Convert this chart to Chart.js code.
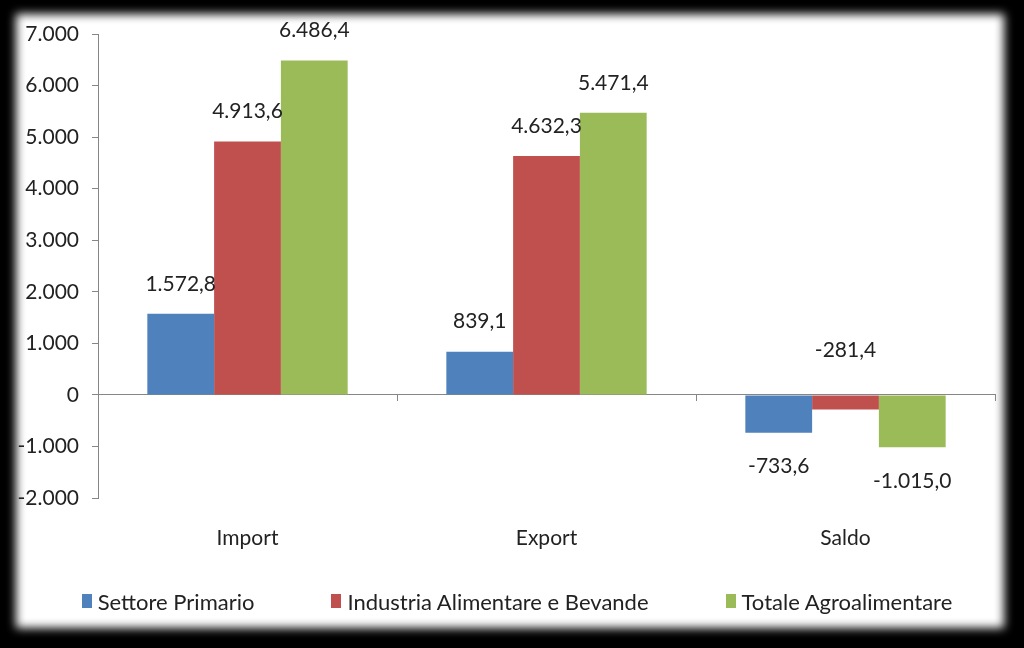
<!DOCTYPE html>
<html>
<head>
<meta charset="utf-8">
<script src="https://cdn.jsdelivr.net/npm/chart.js@4"></script>
<style>
  html, body { margin: 0; padding: 0; background: #000; }
  #panel {
    position: absolute; left: 16px; top: 14px; width: 988px; height: 614px;
    background: #fff; filter: blur(5px);
  }
  #wrap { position: absolute; left: 0; top: 0; width: 1024px; height: 648px; }
  #legend {
    position: absolute; left: 5px; top: 586px; width: 1024px; height: 30px;
    display: flex; justify-content: center; align-items: center; gap: 77px;
    font: 22px Lato, "Open Sans", sans-serif; color: #222;
  }
  #legend .item { display: flex; align-items: center; white-space: nowrap; }
  #legend .box { width: 10px; height: 14px; margin-right: 6px; }
</style>
</head>
<body>
<div id="panel"></div>
<div id="wrap"><canvas id="myChart" width="1024" height="648"></canvas></div>
<div id="legend"></div>
<script>
const categories = ['Import', 'Export', 'Saldo'];
const settorePrimario = [1572.8, 839.1, -733.6];
const industriaAlimentare = [4913.6, 4632.3, -281.4];
const totaleAgroalimentare = [6486.4, 5471.4, -1015.0];
const seriesNames = ['Settore Primario', 'Industria Alimentare e Bevande', 'Totale Agroalimentare'];

const FONT = 'Lato, "Open Sans", sans-serif';
const TEXT = '#222222';
const AXIS = '#868686';

// numeri all'italiana: punto per le migliaia, virgola per i decimali
const fmt = (v, dec) => {
  const neg = v < 0;
  const parts = Math.abs(v).toFixed(dec).split('.');
  const int = parts[0].replace(/\B(?=(\d{3})+(?!\d))/g, '.');
  return (neg ? '-' : '') + int + (dec ? ',' + parts[1] : '');
};

const valueLabels = {
  id: 'valueLabels',
  afterDatasetsDraw(chart) {
    const ctx = chart.ctx;
    const zero = chart.scales.y.getPixelForValue(0);
    ctx.save();
    ctx.font = '21px ' + FONT;
    ctx.fillStyle = TEXT;
    ctx.textAlign = 'center';
    ctx.textBaseline = 'middle';
    chart.data.datasets.forEach((ds, i) => {
      chart.getDatasetMeta(i).data.forEach((bar, j) => {
        const v = ds.data[j];
        let y;
        if (v >= 0) y = bar.y - 30;
        else if (v > -500) y = zero - 45;
        else y = bar.y + 34;
        ctx.fillText(fmt(v, 1), bar.x, y);
      });
    });
    ctx.restore();
  }
};

// legenda in html, costruita dalle voci che genera Chart.js
const htmlLegend = {
  id: 'htmlLegend',
  afterUpdate(chart) {
    const box = document.getElementById('legend');
    box.innerHTML = '';
    const items = chart.options.plugins.legend.labels.generateLabels(chart);
    items.forEach((item) => {
      const el = document.createElement('div');
      el.className = 'item';
      const sw = document.createElement('span');
      sw.className = 'box';
      sw.style.background = item.fillStyle;
      el.appendChild(sw);
      el.appendChild(document.createTextNode(item.text));
      box.appendChild(el);
    });
  }
};

const ctx = document.getElementById('myChart').getContext('2d');
const chart = new Chart(ctx, {
  type: 'bar',
  data: {
    labels: categories,
    datasets: [
      { label: seriesNames[0], data: settorePrimario, backgroundColor: '#4F81BD' },
      { label: seriesNames[1], data: industriaAlimentare, backgroundColor: '#C0504D' },
      { label: seriesNames[2], data: totaleAgroalimentare, backgroundColor: '#9BBB59' },
    ],
  },
  options: {
    responsive: false,
    animation: false,
    categoryPercentage: 0.67,
    barPercentage: 1,
    layout: { padding: { top: 34, right: 29, left: 18, bottom: 95 } },
    scales: {
      y: {
        min: -2000,
        max: 7000,
        afterFit: (scale) => { scale.width = 80; },
        ticks: {
          stepSize: 1000,
          color: TEXT,
          font: { family: FONT, size: 21 },
          padding: 13,
          callback: (v) => fmt(v, 0),
        },
        grid: { drawOnChartArea: false, tickLength: 6, color: AXIS },
        border: { color: AXIS },
      },
      x: {
        afterFit: (scale) => { scale.height = 55; },
        ticks: { color: TEXT, font: { family: FONT, size: 21 }, padding: 28 },
        grid: { display: false, drawTicks: false },
        border: { display: false },
      },
      x2: {
        type: 'category',
        labels: categories,
        position: { y: 0 },
        offset: true,
        afterFit: (scale) => { scale.height = 0; },
        ticks: { display: false },
        grid: { offset: true, drawOnChartArea: false, tickLength: 6, color: AXIS },
        border: { color: AXIS },
      },
    },
    plugins: {
      tooltip: { enabled: false },
      legend: { display: false },
    },
  },
  plugins: [valueLabels, htmlLegend],
});
</script>
</body>
</html>
